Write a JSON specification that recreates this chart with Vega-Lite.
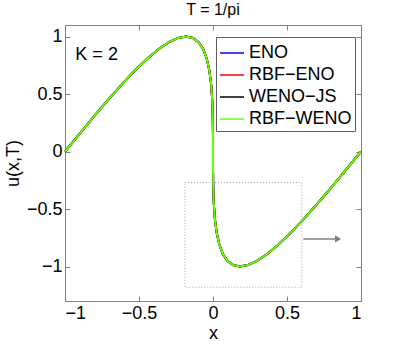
{
  "$schema": "https://vega.github.io/schema/vega-lite/v6.json",
  "width": 296,
  "height": 276,
  "autosize": "none",
  "padding": {"left": 65, "top": 25, "right": 38, "bottom": 43},
  "title": {"text": "T = 1/pi", "fontSize": 16, "fontWeight": "normal", "font": "Liberation Sans", "color": "#000000", "offset": 7, "anchor": "middle"},
  "config": {
    "font": "Liberation Sans",
    "view": {"stroke": null},
    "axis": {
      "grid": false,
      "domainColor": "#808080",
      "tickColor": "#808080",
      "tickSize": -5,
      "labelColor": "#000000",
      "labelFontSize": 18,
      "titleFontSize": 18,
      "titleFontWeight": "normal",
      "titleColor": "#000000"
    }
  },
  "resolve": {"axis": {"x": "independent", "y": "independent"}},
  "layer": [
    {
      "data": {
        "values": [
          {"x": -1, "ENO": 0, "RBF−ENO": 0, "WENO−JS": 0, "RBF−WENO": 0},
          {"x": -0.900205, "ENO": 0.156434, "RBF−ENO": 0.156434, "WENO−JS": 0.156434, "RBF−WENO": 0.156434},
          {"x": -0.801637, "ENO": 0.309017, "RBF−ENO": 0.309017, "WENO−JS": 0.309017, "RBF−WENO": 0.309017},
          {"x": -0.70549, "ENO": 0.45399, "RBF−ENO": 0.45399, "WENO−JS": 0.45399, "RBF−WENO": 0.45399},
          {"x": -0.612902, "ENO": 0.587785, "RBF−ENO": 0.587785, "WENO−JS": 0.587785, "RBF−WENO": 0.587785},
          {"x": -0.524921, "ENO": 0.707107, "RBF−ENO": 0.707107, "WENO−JS": 0.707107, "RBF−WENO": 0.707107},
          {"x": -0.442482, "ENO": 0.809017, "RBF−ENO": 0.809017, "WENO−JS": 0.809017, "RBF−WENO": 0.809017},
          {"x": -0.366384, "ENO": 0.891007, "RBF−ENO": 0.891007, "WENO−JS": 0.891007, "RBF−WENO": 0.891007},
          {"x": -0.297269, "ENO": 0.951057, "RBF−ENO": 0.951057, "WENO−JS": 0.951057, "RBF−WENO": 0.951057},
          {"x": -0.235607, "ENO": 0.987688, "RBF−ENO": 0.987688, "WENO−JS": 0.987688, "RBF−WENO": 0.987688},
          {"x": -0.18169, "ENO": 1, "RBF−ENO": 1, "WENO−JS": 1, "RBF−WENO": 1},
          {"x": -0.135607, "ENO": 0.987688, "RBF−ENO": 0.987688, "WENO−JS": 0.987688, "RBF−WENO": 0.987688},
          {"x": -0.097269, "ENO": 0.951057, "RBF−ENO": 0.951057, "WENO−JS": 0.951057, "RBF−WENO": 0.951057},
          {"x": -0.066384, "ENO": 0.891007, "RBF−ENO": 0.891007, "WENO−JS": 0.891007, "RBF−WENO": 0.891007},
          {"x": -0.042482, "ENO": 0.809017, "RBF−ENO": 0.809017, "WENO−JS": 0.809017, "RBF−WENO": 0.809017},
          {"x": -0.024921, "ENO": 0.707107, "RBF−ENO": 0.707107, "WENO−JS": 0.707107, "RBF−WENO": 0.707107},
          {"x": -0.012902, "ENO": 0.587785, "RBF−ENO": 0.587785, "WENO−JS": 0.587785, "RBF−WENO": 0.587785},
          {"x": -0.00549, "ENO": 0.45399, "RBF−ENO": 0.45399, "WENO−JS": 0.45399, "RBF−WENO": 0.45399},
          {"x": -0.001637, "ENO": 0.309017, "RBF−ENO": 0.309017, "WENO−JS": 0.309017, "RBF−WENO": 0.309017},
          {"x": -0.000205, "ENO": 0.156434, "RBF−ENO": 0.156434, "WENO−JS": 0.156434, "RBF−WENO": 0.156434},
          {"x": 0, "ENO": 0, "RBF−ENO": 0, "WENO−JS": 0, "RBF−WENO": 0},
          {"x": 0.000205, "ENO": -0.156434, "RBF−ENO": -0.156434, "WENO−JS": -0.156434, "RBF−WENO": -0.156434},
          {"x": 0.001637, "ENO": -0.309017, "RBF−ENO": -0.309017, "WENO−JS": -0.309017, "RBF−WENO": -0.309017},
          {"x": 0.00549, "ENO": -0.45399, "RBF−ENO": -0.45399, "WENO−JS": -0.45399, "RBF−WENO": -0.45399},
          {"x": 0.012902, "ENO": -0.587785, "RBF−ENO": -0.587785, "WENO−JS": -0.587785, "RBF−WENO": -0.587785},
          {"x": 0.024921, "ENO": -0.707107, "RBF−ENO": -0.707107, "WENO−JS": -0.707107, "RBF−WENO": -0.707107},
          {"x": 0.042482, "ENO": -0.809017, "RBF−ENO": -0.809017, "WENO−JS": -0.809017, "RBF−WENO": -0.809017},
          {"x": 0.066384, "ENO": -0.891007, "RBF−ENO": -0.891007, "WENO−JS": -0.891007, "RBF−WENO": -0.891007},
          {"x": 0.097269, "ENO": -0.951057, "RBF−ENO": -0.951057, "WENO−JS": -0.951057, "RBF−WENO": -0.951057},
          {"x": 0.135607, "ENO": -0.987688, "RBF−ENO": -0.987688, "WENO−JS": -0.987688, "RBF−WENO": -0.987688},
          {"x": 0.18169, "ENO": -1, "RBF−ENO": -1, "WENO−JS": -1, "RBF−WENO": -1},
          {"x": 0.235607, "ENO": -0.987688, "RBF−ENO": -0.987688, "WENO−JS": -0.987688, "RBF−WENO": -0.987688},
          {"x": 0.297269, "ENO": -0.951057, "RBF−ENO": -0.951057, "WENO−JS": -0.951057, "RBF−WENO": -0.951057},
          {"x": 0.366384, "ENO": -0.891007, "RBF−ENO": -0.891007, "WENO−JS": -0.891007, "RBF−WENO": -0.891007},
          {"x": 0.442482, "ENO": -0.809017, "RBF−ENO": -0.809017, "WENO−JS": -0.809017, "RBF−WENO": -0.809017},
          {"x": 0.524921, "ENO": -0.707107, "RBF−ENO": -0.707107, "WENO−JS": -0.707107, "RBF−WENO": -0.707107},
          {"x": 0.612902, "ENO": -0.587785, "RBF−ENO": -0.587785, "WENO−JS": -0.587785, "RBF−WENO": -0.587785},
          {"x": 0.70549, "ENO": -0.45399, "RBF−ENO": -0.45399, "WENO−JS": -0.45399, "RBF−WENO": -0.45399},
          {"x": 0.801637, "ENO": -0.309017, "RBF−ENO": -0.309017, "WENO−JS": -0.309017, "RBF−WENO": -0.309017},
          {"x": 0.900205, "ENO": -0.156434, "RBF−ENO": -0.156434, "WENO−JS": -0.156434, "RBF−WENO": -0.156434},
          {"x": 1, "ENO": 0, "RBF−ENO": 0, "WENO−JS": 0, "RBF−WENO": 0}
        ]
      },
      "transform": [
        {"fold": ["ENO", "RBF−ENO", "WENO−JS", "RBF−WENO"], "as": ["method", "u"]}
      ],
      "mark": {"type": "line", "strokeWidth": 2},
      "encoding": {
        "x": {"field": "x", "type": "quantitative", "scale": {"domain": [-1, 1], "nice": false}, "axis": {"values": [-1, -0.5, 0, 0.5, 1], "title": "x", "labelPadding": 8, "titlePadding": 2, "format": "~g"}},
        "y": {"field": "u", "type": "quantitative", "scale": {"domain": [-1.3, 1.1], "nice": false}, "axis": {"values": [-1, -0.5, 0, 0.5, 1], "title": "u(x,T)", "labelPadding": 8, "titlePadding": 4, "format": "~g"}},
        "color": {
          "field": "method",
          "type": "nominal",
          "scale": {"domain": ["ENO", "RBF−ENO", "WENO−JS", "RBF−WENO"], "range": ["#0000ff", "#ff0000", "#000000", "#66ff00"]},
          "legend": {
            "title": null,
            "orient": "none",
            "legendX": 151,
            "legendY": 12,
            "direction": "vertical",
            "fillColor": "#ffffff",
            "strokeColor": "#606060",
            "padding": 3,
            "labelFontSize": 18,
            "labelColor": "#000000",
            "labelOffset": 4,
            "rowPadding": -1,
            "symbolType": "stroke",
            "symbolSize": 576,
            "symbolStrokeWidth": 1.5
          }
        }
      }
    },
    {
      "data": {"values": [{"label": "K = 2"}]},
      "mark": {"type": "text", "fontSize": 18, "align": "left", "baseline": "alphabetic", "color": "#000000"},
      "encoding": {
        "text": {"field": "label"},
        "x": {"datum": -0.93, "type": "quantitative", "axis": null},
        "y": {"datum": 0.8, "type": "quantitative", "axis": null}
      }
    },
    {
      "data": {"values": [{"box": "zoom"}]},
      "mark": {"type": "rect", "fill": null, "fillOpacity": 0, "stroke": "#a0a0a0", "strokeWidth": 1, "strokeDash": [1, 2]},
      "encoding": {
        "x": {"datum": -0.19, "type": "quantitative", "axis": null},
        "x2": {"datum": 0.6},
        "y": {"datum": -0.27, "type": "quantitative", "axis": null},
        "y2": {"datum": -1.18}
      }
    },
    {
      "data": {"values": [{"arrow": "shaft"}]},
      "mark": {"type": "rule", "stroke": "#808080", "strokeWidth": 1.5},
      "encoding": {
        "x": {"datum": 0.61, "type": "quantitative", "axis": null},
        "x2": {"datum": 0.84},
        "y": {"datum": -0.76, "type": "quantitative", "axis": null}
      }
    },
    {
      "data": {"values": [{"arrow": "head"}]},
      "mark": {"type": "point", "shape": "triangle-right", "filled": true, "size": 50, "color": "#808080", "opacity": 1},
      "encoding": {
        "x": {"datum": 0.845, "type": "quantitative", "axis": null},
        "y": {"datum": -0.76, "type": "quantitative", "axis": null}
      }
    },
    {
      "data": {"values": [{"frame": "box"}]},
      "mark": {"type": "rule", "strokeOpacity": 0},
      "encoding": {
        "x": {"datum": 0, "type": "quantitative", "axis": {"orient": "top", "values": [-1, -0.5, 0, 0.5, 1], "labels": false, "title": null}},
        "y": {"datum": 0, "type": "quantitative", "axis": {"orient": "right", "values": [-1, -0.5, 0, 0.5, 1], "labels": false, "title": null}}
      }
    }
  ]
}
